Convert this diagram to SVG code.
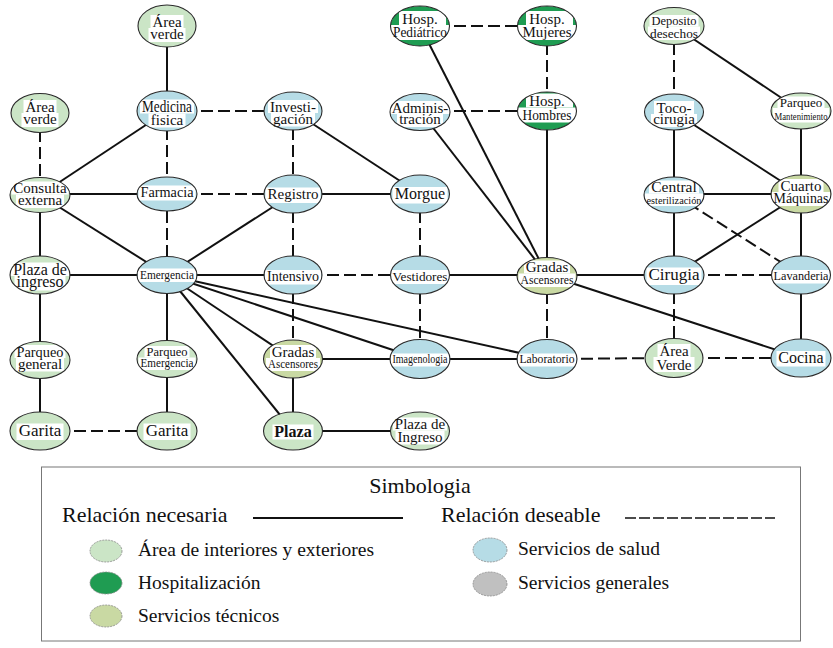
<svg xmlns="http://www.w3.org/2000/svg" width="833" height="648" viewBox="0 0 833 648">
<style>
.nec{stroke:#111;stroke-width:2;fill:none}
.des{stroke:#111;stroke-width:2;fill:none;stroke-dasharray:12 5}
.ga{fill:#cbe5c6}.gh{fill:#1f9c52}.gt{fill:#c9d9a3}.bl{fill:#b6dce6}.gr{fill:#c0c0c0}
.bg{fill:#fff}
.ol{fill:none;stroke:#2a2a2a;stroke-width:1.1}
text{font-family:"Liberation Serif","Times New Roman",serif;fill:#111;text-anchor:middle}
.lg text{text-anchor:start}
.le{stroke:#888;stroke-width:0.8;stroke-dasharray:2 1}
</style>
<defs>
<clipPath id="ec" clipPathUnits="objectBoundingBox"><ellipse cx="0.5" cy="0.5" rx="0.5" ry="0.5"/></clipPath>
</defs>
<rect width="833" height="648" fill="#fff"/>
<g id="connectors">
<line class="nec" x1="167" y1="26" x2="167" y2="111"/>
<line class="nec" x1="167" y1="111" x2="40" y2="195"/>
<line class="nec" x1="293" y1="111" x2="420" y2="194"/>
<line class="nec" x1="40" y1="194" x2="167" y2="194"/>
<line class="nec" x1="293" y1="194" x2="420" y2="194"/>
<line class="nec" x1="40" y1="195" x2="167" y2="275"/>
<line class="nec" x1="40" y1="195" x2="40" y2="275"/>
<line class="nec" x1="293" y1="194" x2="167" y2="275"/>
<line class="nec" x1="40" y1="275" x2="167" y2="275"/>
<line class="nec" x1="167" y1="275" x2="293" y2="275"/>
<line class="nec" x1="420" y1="275" x2="547" y2="275"/>
<line class="nec" x1="547" y1="275" x2="674" y2="275"/>
<line class="nec" x1="40" y1="275" x2="40" y2="358"/>
<line class="nec" x1="40" y1="358" x2="40" y2="431"/>
<line class="nec" x1="167" y1="275" x2="167" y2="358"/>
<line class="nec" x1="167" y1="358" x2="167" y2="431"/>
<line class="nec" x1="167" y1="275" x2="293" y2="359"/>
<line class="nec" x1="167" y1="275" x2="293" y2="431"/>
<line class="nec" x1="167" y1="275" x2="420" y2="359"/>
<line class="nec" x1="167" y1="275" x2="547" y2="359"/>
<line class="nec" x1="293" y1="359" x2="420" y2="359"/>
<line class="nec" x1="293" y1="359" x2="293" y2="431"/>
<line class="nec" x1="293" y1="431" x2="420" y2="431"/>
<line class="nec" x1="420" y1="359" x2="547" y2="359"/>
<line class="nec" x1="547" y1="275" x2="801" y2="358"/>
<line class="nec" x1="420" y1="26" x2="547" y2="275"/>
<line class="nec" x1="420" y1="111" x2="547" y2="275"/>
<line class="nec" x1="547" y1="111" x2="547" y2="275"/>
<line class="nec" x1="674" y1="26" x2="801" y2="111"/>
<line class="nec" x1="674" y1="112" x2="801" y2="194"/>
<line class="nec" x1="801" y1="111" x2="801" y2="194"/>
<line class="nec" x1="674" y1="112" x2="674" y2="194"/>
<line class="nec" x1="674" y1="194" x2="801" y2="194"/>
<line class="nec" x1="674" y1="194" x2="674" y2="275"/>
<line class="nec" x1="801" y1="194" x2="674" y2="275"/>
<line class="nec" x1="801" y1="194" x2="801" y2="275"/>
<line class="nec" x1="801" y1="275" x2="801" y2="358"/>
<line class="des" x1="40" y1="113" x2="40" y2="195"/>
<line class="des" x1="167" y1="111" x2="293" y2="111"/>
<line class="des" x1="167" y1="111" x2="167" y2="194"/>
<line class="des" x1="293" y1="111" x2="293" y2="194"/>
<line class="des" x1="167" y1="194" x2="293" y2="194"/>
<line class="des" x1="167" y1="194" x2="167" y2="275"/>
<line class="des" x1="293" y1="194" x2="293" y2="275"/>
<line class="des" x1="420" y1="194" x2="420" y2="275"/>
<line class="des" x1="293" y1="275" x2="420" y2="275"/>
<line class="des" x1="674" y1="275" x2="801" y2="275"/>
<line class="des" x1="40" y1="431" x2="167" y2="431"/>
<line class="des" x1="293" y1="275" x2="293" y2="359"/>
<line class="des" x1="420" y1="275" x2="420" y2="359"/>
<line class="des" x1="547" y1="359" x2="674" y2="358"/>
<line class="des" x1="674" y1="358" x2="801" y2="358"/>
<line class="des" x1="547" y1="275" x2="547" y2="359"/>
<line class="des" x1="674" y1="275" x2="674" y2="358"/>
<line class="des" x1="420" y1="26" x2="547" y2="26"/>
<line class="des" x1="547" y1="26" x2="547" y2="111"/>
<line class="des" x1="420" y1="111" x2="547" y2="111"/>
<line class="des" x1="674" y1="26" x2="674" y2="112"/>
<line class="des" x1="674" y1="194" x2="801" y2="275"/>
</g>
<g id="nodes">
<g id="n-av1"><g clip-path="url(#ec)"><ellipse class="ga" cx="167" cy="26" rx="29" ry="21"/><rect class="bg" x="150.5" y="15" width="33" height="13"/><rect class="bg" x="148.5" y="28" width="37" height="14"/></g><ellipse class="ol" cx="167" cy="26" rx="29" ry="21"/><text x="167" y="26.5" font-size="15">Área</text><text x="167" y="39" font-size="15">verde</text></g>
<g id="n-av2"><g clip-path="url(#ec)"><ellipse class="ga" cx="40" cy="113" rx="29" ry="19.5"/><rect class="bg" x="23.5" y="100" width="33" height="13"/><rect class="bg" x="21.5" y="113" width="37" height="14"/></g><ellipse class="ol" cx="40" cy="113" rx="29" ry="19.5"/><text x="40" y="111.5" font-size="15">Área</text><text x="40" y="124" font-size="15">verde</text></g>
<g id="n-med"><g clip-path="url(#ec)"><ellipse class="bl" cx="167" cy="111" rx="30" ry="20"/><rect class="bg" x="140" y="99.5" width="54" height="14"/><rect class="bg" x="148.5" y="113.5" width="37" height="14"/></g><ellipse class="ol" cx="167" cy="111" rx="30" ry="20"/><text x="167" y="112" font-size="16" textLength="50" lengthAdjust="spacingAndGlyphs">Medicina</text><text x="167" y="124.5" font-size="15">fisica</text></g>
<g id="n-inv"><g clip-path="url(#ec)"><ellipse class="bl" cx="293" cy="111" rx="29" ry="19"/><rect class="bg" x="268" y="100" width="50" height="13"/><rect class="bg" x="271" y="113" width="44" height="13.5"/></g><ellipse class="ol" cx="293" cy="111" rx="29" ry="19"/><text x="293" y="111.5" font-size="15">Investi-</text><text x="293" y="123.5" font-size="15">gación</text></g>
<g id="n-hped"><g clip-path="url(#ec)"><ellipse class="gh" cx="420" cy="26" rx="29.5" ry="20"/><rect class="bg" x="399" y="11" width="47" height="14"/><rect class="bg" x="390.5" y="25" width="59" height="15"/></g><ellipse class="ol" cx="420" cy="26" rx="29.5" ry="20"/><text x="420" y="23.5" font-size="15">Hosp.</text><text x="420" y="37" font-size="14" textLength="54" lengthAdjust="spacingAndGlyphs">Pediátrico</text></g>
<g id="n-hmuj"><g clip-path="url(#ec)"><ellipse class="gh" cx="547" cy="26" rx="29.5" ry="20"/><rect class="bg" x="526" y="11" width="47" height="14"/><rect class="bg" x="517.5" y="25" width="59" height="15"/></g><ellipse class="ol" cx="547" cy="26" rx="29.5" ry="20"/><text x="547" y="23.5" font-size="15">Hosp.</text><text x="547" y="37" font-size="15">Mujeres</text></g>
<g id="n-adm"><g clip-path="url(#ec)"><ellipse class="bl" cx="420" cy="112" rx="30" ry="18.5"/><rect class="bg" x="390" y="101" width="60" height="13"/><rect class="bg" x="397" y="114" width="46" height="13"/></g><ellipse class="ol" cx="420" cy="112" rx="30" ry="18.5"/><text x="420" y="112.5" font-size="15">Adminis-</text><text x="420" y="124" font-size="15">tración</text></g>
<g id="n-hhom"><g clip-path="url(#ec)"><ellipse class="gh" cx="547" cy="111" rx="29.5" ry="19"/><rect class="bg" x="526" y="93.5" width="47" height="14"/><rect class="bg" x="517.5" y="107.5" width="59" height="15"/></g><ellipse class="ol" cx="547" cy="111" rx="29.5" ry="19"/><text x="547" y="106" font-size="15">Hosp.</text><text x="547" y="119.5" font-size="15" textLength="49" lengthAdjust="spacingAndGlyphs">Hombres</text></g>
<g id="n-dep"><g clip-path="url(#ec)"><ellipse class="ga" cx="674" cy="26" rx="30" ry="18.5"/><rect class="bg" x="649.5" y="15" width="49" height="11.5"/><rect class="bg" x="648" y="26.5" width="52" height="13.5"/></g><ellipse class="ol" cx="674" cy="26" rx="30" ry="18.5"/><text x="674" y="25" font-size="13" textLength="45" lengthAdjust="spacingAndGlyphs">Deposito</text><text x="674" y="37.5" font-size="13" textLength="48" lengthAdjust="spacingAndGlyphs">desechos</text></g>
<g id="n-toco"><g clip-path="url(#ec)"><ellipse class="bl" cx="674" cy="112" rx="29.5" ry="18"/><rect class="bg" x="654" y="101" width="40" height="13"/><rect class="bg" x="651" y="114" width="46" height="13"/></g><ellipse class="ol" cx="674" cy="112" rx="29.5" ry="18"/><text x="674" y="112.5" font-size="15">Toco-</text><text x="674" y="123.5" font-size="15">cirugia</text></g>
<g id="n-pm"><g clip-path="url(#ec)"><ellipse class="ga" cx="801" cy="111" rx="30" ry="18"/><rect class="bg" x="777.5" y="96.5" width="47" height="11.5"/><rect class="bg" x="773" y="108" width="56" height="14.5"/></g><ellipse class="ol" cx="801" cy="111" rx="30" ry="18"/><text x="801" y="106.5" font-size="13">Parqueo</text><text x="801" y="120" font-size="10.5" textLength="53" lengthAdjust="spacingAndGlyphs">Mantenimiento</text></g>
<g id="n-con"><g clip-path="url(#ec)"><ellipse class="ga" cx="40" cy="195" rx="30" ry="17.5"/><rect class="bg" x="11.5" y="181.5" width="57" height="13"/><rect class="bg" x="16" y="194.5" width="48" height="13.5"/></g><ellipse class="ol" cx="40" cy="195" rx="30" ry="17.5"/><text x="40" y="193" font-size="15">Consulta</text><text x="40" y="205" font-size="15">externa</text></g>
<g id="n-far"><g clip-path="url(#ec)"><ellipse class="bl" cx="167" cy="194" rx="30" ry="17"/><rect class="bg" x="138.5" y="185.5" width="57" height="15"/></g><ellipse class="ol" cx="167" cy="194" rx="30" ry="17"/><text x="167" y="197" font-size="15" textLength="53" lengthAdjust="spacingAndGlyphs">Farmacia</text></g>
<g id="n-reg"><g clip-path="url(#ec)"><ellipse class="bl" cx="293" cy="194" rx="29" ry="19"/><rect class="bg" x="265.5" y="187.5" width="55" height="15.5"/></g><ellipse class="ol" cx="293" cy="194" rx="29" ry="19"/><text x="293" y="199" font-size="15">Registro</text></g>
<g id="n-mor"><g clip-path="url(#ec)"><ellipse class="bl" cx="420" cy="194" rx="29.5" ry="19"/><rect class="bg" x="392.5" y="187" width="55" height="16.5"/></g><ellipse class="ol" cx="420" cy="194" rx="29.5" ry="19"/><text x="420" y="199" font-size="16">Morgue</text></g>
<g id="n-cen"><g clip-path="url(#ec)"><ellipse class="bl" cx="674" cy="195" rx="30" ry="18"/><rect class="bg" x="649" y="180.5" width="50" height="13"/><rect class="bg" x="645" y="193.5" width="58" height="12.5"/></g><ellipse class="ol" cx="674" cy="195" rx="30" ry="18"/><text x="674" y="192" font-size="15.5">Central</text><text x="674" y="203.5" font-size="10.5" textLength="55" lengthAdjust="spacingAndGlyphs">esterilización</text></g>
<g id="n-cua"><g clip-path="url(#ec)"><ellipse class="gt" cx="801" cy="194" rx="30" ry="19"/><rect class="bg" x="778.5" y="179" width="45" height="13"/><rect class="bg" x="772" y="192" width="58" height="14"/></g><ellipse class="ol" cx="801" cy="194" rx="30" ry="19"/><text x="801" y="190.5" font-size="15">Cuarto</text><text x="801" y="203" font-size="15" textLength="55" lengthAdjust="spacingAndGlyphs">Máquinas</text></g>
<g id="n-pli"><g clip-path="url(#ec)"><ellipse class="ga" cx="40" cy="275" rx="30" ry="19"/><rect class="bg" x="11" y="262.5" width="58" height="13.5"/><rect class="bg" x="14.5" y="276" width="51" height="14.5"/></g><ellipse class="ol" cx="40" cy="275" rx="30" ry="19"/><text x="40" y="274.5" font-size="16">Plaza de</text><text x="40" y="287" font-size="16">ingreso</text></g>
<g id="n-eme"><g clip-path="url(#ec)"><ellipse class="bl" cx="167" cy="275" rx="30" ry="18.5"/><rect class="bg" x="138" y="268.5" width="58" height="13.5"/></g><ellipse class="ol" cx="167" cy="275" rx="30" ry="18.5"/><text x="167" y="278.5" font-size="12.5" textLength="54" lengthAdjust="spacingAndGlyphs">Emergencia</text></g>
<g id="n-int"><g clip-path="url(#ec)"><ellipse class="bl" cx="293" cy="275" rx="29" ry="19"/><rect class="bg" x="265" y="270" width="56" height="14.5"/></g><ellipse class="ol" cx="293" cy="275" rx="29" ry="19"/><text x="293" y="281" font-size="14.5" textLength="52" lengthAdjust="spacingAndGlyphs">Intensivo</text></g>
<g id="n-ves"><g clip-path="url(#ec)"><ellipse class="bl" cx="420" cy="275" rx="29.5" ry="19"/><rect class="bg" x="391" y="270" width="58" height="14"/></g><ellipse class="ol" cx="420" cy="275" rx="29.5" ry="19"/><text x="420" y="280.5" font-size="13.5" textLength="55" lengthAdjust="spacingAndGlyphs">Vestidores</text></g>
<g id="n-gr1"><g clip-path="url(#ec)"><ellipse class="gt" cx="547" cy="276" rx="30" ry="18.5"/><rect class="bg" x="524" y="260.5" width="46" height="13"/><rect class="bg" x="518.5" y="273.5" width="57" height="13.5"/></g><ellipse class="ol" cx="547" cy="276" rx="30" ry="18.5"/><text x="547" y="272" font-size="15">Gradas</text><text x="547" y="284" font-size="12" textLength="53" lengthAdjust="spacingAndGlyphs">Ascensores</text></g>
<g id="n-cir"><g clip-path="url(#ec)"><ellipse class="bl" cx="674" cy="275" rx="30" ry="19"/><rect class="bg" x="646.5" y="267.5" width="55" height="17.5"/></g><ellipse class="ol" cx="674" cy="275" rx="30" ry="19"/><text x="674" y="280" font-size="17">Cirugia</text></g>
<g id="n-lav"><g clip-path="url(#ec)"><ellipse class="bl" cx="801" cy="275" rx="29.5" ry="19"/><rect class="bg" x="772" y="270" width="58" height="13.5"/></g><ellipse class="ol" cx="801" cy="275" rx="29.5" ry="19"/><text x="801" y="280" font-size="13" textLength="55" lengthAdjust="spacingAndGlyphs">Lavanderia</text></g>
<g id="n-pg"><g clip-path="url(#ec)"><ellipse class="ga" cx="40" cy="360" rx="30" ry="18.5"/><rect class="bg" x="14.5" y="345" width="51" height="13"/><rect class="bg" x="16" y="358" width="48" height="13.5"/></g><ellipse class="ol" cx="40" cy="360" rx="30" ry="18.5"/><text x="40" y="356.5" font-size="15" textLength="47" lengthAdjust="spacingAndGlyphs">Parqueo</text><text x="40" y="368.5" font-size="15">general</text></g>
<g id="n-pe"><g clip-path="url(#ec)"><ellipse class="ga" cx="167" cy="359" rx="30" ry="18.5"/><rect class="bg" x="144.5" y="346" width="45" height="11.5"/><rect class="bg" x="138.5" y="357.5" width="57" height="12.5"/></g><ellipse class="ol" cx="167" cy="359" rx="30" ry="18.5"/><text x="167" y="356" font-size="13" textLength="41" lengthAdjust="spacingAndGlyphs">Parqueo</text><text x="167" y="367" font-size="11.5" textLength="53" lengthAdjust="spacingAndGlyphs">Emergencia</text></g>
<g id="n-gr2"><g clip-path="url(#ec)"><ellipse class="gt" cx="293" cy="359" rx="29.5" ry="19"/><rect class="bg" x="270" y="345" width="46" height="13"/><rect class="bg" x="266" y="358" width="54" height="13"/></g><ellipse class="ol" cx="293" cy="359" rx="29.5" ry="19"/><text x="293" y="356.5" font-size="15">Gradas</text><text x="293" y="368" font-size="12" textLength="50" lengthAdjust="spacingAndGlyphs">Ascensores</text></g>
<g id="n-ima"><g clip-path="url(#ec)"><ellipse class="bl" cx="420" cy="359" rx="30" ry="19.5"/><rect class="bg" x="391" y="353.5" width="58" height="13"/></g><ellipse class="ol" cx="420" cy="359" rx="30" ry="19.5"/><text x="420" y="363" font-size="12" textLength="55" lengthAdjust="spacingAndGlyphs">Imagenologia</text></g>
<g id="n-lab"><g clip-path="url(#ec)"><ellipse class="bl" cx="547" cy="359" rx="30" ry="19.5"/><rect class="bg" x="518" y="353.5" width="58" height="13"/></g><ellipse class="ol" cx="547" cy="359" rx="30" ry="19.5"/><text x="547" y="363" font-size="12.5" textLength="55" lengthAdjust="spacingAndGlyphs">Laboratorio</text></g>
<g id="n-av3"><g clip-path="url(#ec)"><ellipse class="ga" cx="674" cy="358" rx="29" ry="19.5"/><rect class="bg" x="657.5" y="344" width="33" height="13"/><rect class="bg" x="653.5" y="357" width="41" height="15"/></g><ellipse class="ol" cx="674" cy="358" rx="29" ry="19.5"/><text x="674" y="355.5" font-size="15">Área</text><text x="674" y="369.5" font-size="15">Verde</text></g>
<g id="n-coc"><g clip-path="url(#ec)"><ellipse class="bl" cx="801" cy="358" rx="30" ry="19"/><rect class="bg" x="776.5" y="351" width="49" height="15.5"/></g><ellipse class="ol" cx="801" cy="358" rx="30" ry="19"/><text x="801" y="363" font-size="16">Cocina</text></g>
<g id="n-gar1"><g clip-path="url(#ec)"><ellipse class="ga" cx="40" cy="431" rx="30" ry="19"/><rect class="bg" x="16.5" y="423.5" width="47" height="16.5"/></g><ellipse class="ol" cx="40" cy="431" rx="30" ry="19"/><text x="40" y="436" font-size="17">Garita</text></g>
<g id="n-gar2"><g clip-path="url(#ec)"><ellipse class="ga" cx="167" cy="431" rx="30" ry="19"/><rect class="bg" x="143.5" y="423.5" width="47" height="16.5"/></g><ellipse class="ol" cx="167" cy="431" rx="30" ry="19"/><text x="167" y="436" font-size="17">Garita</text></g>
<g id="n-pla"><g clip-path="url(#ec)"><ellipse class="ga" cx="293" cy="431" rx="29.5" ry="19"/><rect class="bg" x="272.5" y="424.5" width="41" height="15"/></g><ellipse class="ol" cx="293" cy="431" rx="29.5" ry="19"/><text x="293" y="436.5" font-size="16" font-weight="bold">Plaza</text></g>
<g id="n-pli2"><g clip-path="url(#ec)"><ellipse class="ga" cx="420" cy="431" rx="29.5" ry="19"/><rect class="bg" x="393" y="417.5" width="54" height="13"/><rect class="bg" x="395.5" y="430.5" width="49" height="14"/></g><ellipse class="ol" cx="420" cy="431" rx="29.5" ry="19"/><text x="420" y="429" font-size="15">Plaza de</text><text x="420" y="441.5" font-size="15">Ingreso</text></g>
</g>
<g id="legend" class="lg">
<rect x="41.5" y="467" width="759" height="174" fill="none" stroke="#777" stroke-width="1"/>
<text x="420" y="493" font-size="22" style="text-anchor:middle">Simbologia</text>
<text x="62" y="522" font-size="22">Relación necesaria</text>
<line x1="253" y1="518" x2="403" y2="518" stroke="#111" stroke-width="1.8"/>
<text x="441" y="522" font-size="22">Relación deseable</text>
<line x1="625" y1="518" x2="775" y2="518" stroke="#111" stroke-width="1.6" stroke-dasharray="11 3"/>
<ellipse class="ga le" cx="106" cy="551" rx="16" ry="11"/>
<text x="138" y="556" font-size="19.5">Área de interiores y exteriores</text>
<ellipse class="gh le" cx="106" cy="583" rx="16" ry="11"/>
<text x="138" y="589" font-size="19.5">Hospitalización</text>
<ellipse class="gt le" cx="106" cy="616" rx="16" ry="11"/>
<text x="138" y="622" font-size="19.5">Servicios técnicos</text>
<ellipse class="bl le" cx="490" cy="550" rx="17" ry="12"/>
<text x="518" y="555" font-size="19.5">Servicios de salud</text>
<ellipse class="gr le" cx="490" cy="584" rx="17" ry="12"/>
<text x="518" y="589" font-size="19.5">Servicios generales</text>
</g>
</svg>
